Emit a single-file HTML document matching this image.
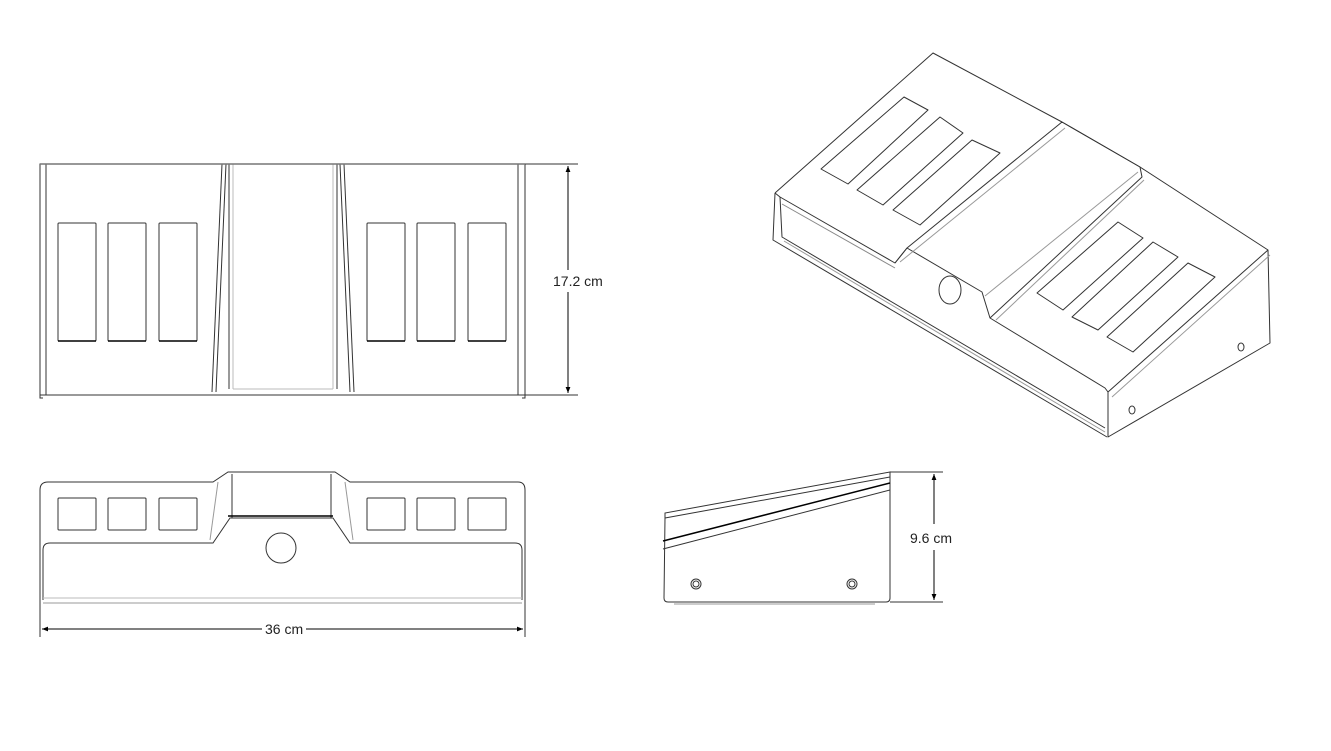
<!DOCTYPE html>
<html><head><meta charset="utf-8"><style>
html,body{margin:0;padding:0;background:#fff;}
svg{display:block;}
text{font-family:"Liberation Sans",sans-serif;font-size:14px;fill:#222;}
</style></head><body>
<svg width="1331" height="751" viewBox="0 0 1331 751" xmlns="http://www.w3.org/2000/svg">
<defs>
<marker id="ar" viewBox="0 0 10 10" refX="10" refY="5" markerWidth="8" markerHeight="6" orient="auto-start-reverse"><path d="M0,1 L10,5 L0,9 z" fill="#000"/></marker>
</defs>
<g fill="none" stroke="#333" stroke-width="1">
<!-- TOP VIEW -->
<rect x="40" y="164" width="485" height="231"/>
<path d="M40,395 L40,398 L43,398"/>
<path d="M525,395 L525,398 L522,398"/>
<line x1="46" y1="164" x2="46" y2="395"/>
<line x1="518" y1="164" x2="518" y2="395"/>
<line x1="222" y1="164" x2="212" y2="392"/>
<line x1="226" y1="164" x2="216" y2="392"/>
<line x1="229" y1="164" x2="229" y2="389"/>
<line x1="233" y1="164" x2="233" y2="389" stroke="#bbb"/>
<line x1="333" y1="164" x2="333" y2="389" stroke="#bbb"/>
<line x1="337" y1="164" x2="337" y2="389"/>
<line x1="340" y1="164" x2="350" y2="392"/>
<line x1="344" y1="164" x2="354" y2="392"/>
<line x1="233" y1="389" x2="333" y2="389" stroke="#bbb"/>
<line x1="40" y1="164" x2="525" y2="164" stroke="#777" stroke-width="1.5"/>
<g>
<rect x="58" y="223" width="38" height="118" rx="1"/>
<rect x="108" y="223" width="38" height="118" rx="1"/>
<rect x="159" y="223" width="38" height="118" rx="1"/>
<rect x="367" y="223" width="38" height="118" rx="1"/>
<rect x="417" y="223" width="38" height="118" rx="1"/>
<rect x="468" y="223" width="38" height="118" rx="1"/>
</g>
<g stroke="#000" stroke-width="1.5">
<line x1="58" y1="341" x2="96" y2="341"/><line x1="108" y1="341" x2="146" y2="341"/><line x1="159" y1="341" x2="197" y2="341"/>
<line x1="367" y1="341" x2="405" y2="341"/><line x1="417" y1="341" x2="455" y2="341"/><line x1="468" y1="341" x2="506" y2="341"/>
</g>
<line x1="525" y1="164" x2="578" y2="164"/>
<line x1="525" y1="395" x2="578" y2="395"/>
</g>
<line x1="568" y1="166" x2="568" y2="270" stroke="#000" marker-start="url(#ar)"/>
<line x1="568" y1="292" x2="568" y2="393" stroke="#000" marker-end="url(#ar)"/>
<text x="553" y="286">17.2 cm</text>

<!-- FRONT VIEW -->
<g fill="none" stroke="#333" stroke-width="1">
<path d="M40,603 L40,490 Q40,482 48,482 L213,482 L228,472 L335,472 L350,482 L518,482 Q525,482 525,490 L525,603"/>
<path d="M43,600 L43,550 Q43,543 50,543 L213,543 L230,518 L333,518 L350,543 L515,543 Q522,543 522,550 L522,600"/>
<line x1="232" y1="474" x2="232" y2="518"/>
<line x1="331" y1="474" x2="331" y2="518"/>
<line x1="218" y1="482" x2="210" y2="540" stroke="#999"/>
<line x1="345" y1="482" x2="353" y2="540" stroke="#999"/>
<line x1="228" y1="516" x2="333" y2="516" stroke="#000" stroke-width="1.5"/>
<line x1="43" y1="598" x2="522" y2="598" stroke="#bbb"/>
<line x1="43" y1="603" x2="522" y2="603" stroke="#999"/>
<circle cx="281" cy="548" r="15"/>
<rect x="58" y="498" width="38" height="32" rx="1"/>
<rect x="108" y="498" width="38" height="32" rx="1"/>
<rect x="159" y="498" width="38" height="32" rx="1"/>
<rect x="367" y="498" width="38" height="32" rx="1"/>
<rect x="417" y="498" width="38" height="32" rx="1"/>
<rect x="468" y="498" width="38" height="32" rx="1"/>
<line x1="40" y1="603" x2="40" y2="637"/>
<line x1="525" y1="603" x2="525" y2="637"/>
</g>
<line x1="42" y1="629" x2="262" y2="629" stroke="#000" marker-start="url(#ar)"/>
<line x1="306" y1="629" x2="523" y2="629" stroke="#000" marker-end="url(#ar)"/>
<text x="265" y="634">36 cm</text>

<!-- SIDE VIEW -->
<g fill="none" stroke="#333" stroke-width="1">
<path d="M665,518 L664,598 Q664,602 668,602 L886,602 Q890,602 890,598 L890,472 L665,513 Z"/>
<line x1="665" y1="518" x2="890" y2="477"/>
<line x1="663" y1="541" x2="890" y2="483" stroke="#000" stroke-width="1.5"/>
<line x1="663" y1="549" x2="890" y2="490"/>
<line x1="674" y1="604" x2="875" y2="604" stroke="#999"/>
<circle cx="696" cy="584" r="5"/><circle cx="696" cy="584" r="3"/>
<circle cx="852" cy="584" r="5"/><circle cx="852" cy="584" r="3"/>
<line x1="890" y1="472" x2="943" y2="472"/>
<line x1="890" y1="602" x2="943" y2="602"/>
</g>
<line x1="934" y1="474" x2="934" y2="524" stroke="#000" marker-start="url(#ar)"/>
<line x1="934" y1="550" x2="934" y2="600" stroke="#000" marker-end="url(#ar)"/>
<text x="910" y="543">9.6 cm</text>

<!-- ISO VIEW -->
<g fill="none" stroke="#333" stroke-width="1" stroke-linejoin="round">
<path d="M775,193 L933,53 L1062,122"/>
<path d="M1062,122 L1140,167 L1268,250 L1270,343 L1108,437 L1108,392 L1268,250"/>
<path d="M1108,392 L1105,388 L990,318 L982,292 L907,248 L895,263 L780,197 L775,193"/>
<path d="M775,193 L773,240 L1107,437"/>
<path d="M780,197 L782,237 L1105,428"/>
<path d="M784,241 L1105,432" stroke="#999"/>
<path d="M782,204 L895,268" stroke="#888"/>
<path d="M895,263 L907,248 L1062,122 L1140,167 L1142,177 L990,318"/>
<path d="M900,262 L1065,128" stroke="#999"/>
<path d="M985,296 L1138,172" stroke="#999"/>
<path d="M996,320 L1144,180" stroke="#999"/>
<path d="M1112,397 L1270,255" stroke="#999"/>
<ellipse cx="950" cy="290" rx="11" ry="14"/>
<ellipse cx="1132" cy="410" rx="3" ry="4"/>
<ellipse cx="1241" cy="347" rx="3" ry="4"/>
<path d="M821,169 L904,97 L928,110 L848,184 Z"/>
<path d="M857,190 L940,117 L963,133 L883,205 Z"/>
<path d="M893,210 L972,140 L1000,153 L920,225 Z"/>
<path d="M1037,293 L1118,222 L1143,238 L1063,310 Z"/>
<path d="M1072,317 L1153,242 L1178,257 L1098,330 Z"/>
<path d="M1107,337 L1188,263 L1215,277 L1133,352 Z"/>
</g>
</svg>
</body></html>
